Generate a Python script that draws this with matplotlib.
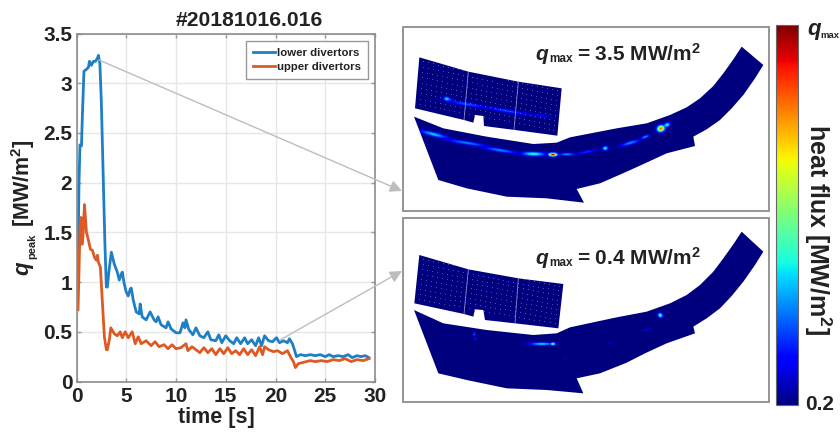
import numpy as np
import matplotlib
matplotlib.use("Agg")
import matplotlib.pyplot as plt
from matplotlib.patches import Rectangle, FancyArrowPatch
from matplotlib.path import Path

plt.rcParams['font.family'] = ['Liberation Sans', 'DejaVu Sans']
plt.rcParams['font.weight'] = 'bold'
plt.rcParams['mathtext.fontset'] = 'custom'
plt.rcParams['mathtext.rm'] = 'Liberation Sans:bold'
plt.rcParams['mathtext.it'] = 'Liberation Sans:italic:bold'
plt.rcParams['mathtext.bf'] = 'Liberation Sans:bold'

# ---- time traces -------------------------------------------------------
lower_t = [0.05,0.15,0.25,0.35,0.5,0.6,0.75,1.0,1.2,1.3,1.5,1.7,1.9,2.1,2.2,2.35,2.5,2.7,2.85,3.0,3.1,3.25,3.5,3.8,4.1,4.3,4.5,4.6,4.8,5.0,5.2,5.4,5.5,5.7,6.0,6.3,6.4,6.6,7.0,7.4,7.8,8.0,8.2,8.5,9.0,9.2,9.5,10.0,10.4,10.7,10.9,11.0,11.3,11.7,12.0,12.4,12.8,13.2,13.5,14.0,14.3,14.6,15.0,15.4,15.8,16.1,16.5,16.9,17.2,17.6,18.0,18.3,18.6,18.9,19.3,19.7,20.1,20.4,20.8,21.2,21.4,21.7,21.9,22.1,22.5,23.0,23.5,24.0,24.5,25.0,25.4,25.8,26.3,26.8,27.3,27.7,28.2,28.6,29.0,29.4]
lower_q = [0.75,1.2,2.0,2.38,2.37,2.7,3.12,3.14,3.16,3.22,3.18,3.22,3.22,3.25,3.28,3.2,2.8,2.0,1.4,0.95,0.95,1.1,1.3,1.18,1.1,1.02,1.08,1.1,0.98,0.9,0.86,0.93,0.94,0.82,0.7,0.68,0.78,0.65,0.62,0.7,0.62,0.6,0.65,0.57,0.54,0.6,0.53,0.49,0.49,0.59,0.54,0.62,0.52,0.47,0.54,0.46,0.44,0.5,0.42,0.41,0.47,0.39,0.46,0.41,0.38,0.44,0.38,0.44,0.38,0.42,0.36,0.44,0.36,0.46,0.41,0.40,0.44,0.39,0.41,0.39,0.43,0.38,0.32,0.25,0.27,0.26,0.27,0.26,0.27,0.25,0.27,0.25,0.26,0.25,0.27,0.24,0.26,0.25,0.26,0.24]
upper_t = [0.05,0.15,0.25,0.35,0.45,0.55,0.65,0.8,1.0,1.2,1.4,1.6,1.8,2.0,2.1,2.2,2.4,2.6,2.8,3.0,3.1,3.3,3.45,3.8,4.1,4.4,4.6,4.9,5.2,5.6,5.9,6.2,6.5,7.0,7.5,7.9,8.3,8.8,9.2,9.6,10.0,10.5,11.0,11.2,11.6,12.0,12.4,12.8,13.2,13.6,14.0,14.4,14.8,15.2,15.6,16.0,16.4,16.8,17.2,17.6,18.0,18.4,18.7,18.9,19.3,19.8,20.2,20.7,21.2,21.5,21.8,22.0,22.3,22.7,23.1,23.5,24.0,24.6,25.2,25.8,26.4,27.0,27.6,28.2,28.8,29.4]
upper_q = [0.75,0.72,1.1,1.55,1.65,1.38,1.45,1.78,1.5,1.42,1.33,1.32,1.25,1.22,1.27,1.2,1.15,0.8,0.45,0.32,0.32,0.42,0.54,0.48,0.46,0.5,0.44,0.5,0.44,0.5,0.38,0.45,0.38,0.41,0.36,0.4,0.35,0.37,0.33,0.37,0.33,0.34,0.38,0.31,0.35,0.32,0.29,0.34,0.29,0.33,0.27,0.33,0.28,0.34,0.28,0.31,0.27,0.33,0.27,0.32,0.26,0.35,0.27,0.35,0.32,0.3,0.31,0.28,0.31,0.25,0.2,0.14,0.18,0.19,0.2,0.21,0.2,0.21,0.2,0.22,0.21,0.23,0.2,0.22,0.21,0.23]

x_ticks = [0,5,10,15,20,25,30]
y_ticks = [0,0.5,1,1.5,2,2.5,3,3.5]
y_tick_labels = ['0','0.5','1','1.5','2','2.5','3','3.5']

# ---- divertor outlines (reference pixels) ------------------------------
def crop(pts, oy):
    return [(400 + a / 3, oy + b / 3) for a, b in pts]

upper_piece_1 = crop([(58,112),(205,155),(355,185),(485,205),(472,347),(345,330),(252,318),(250,288),(225,285),(220,308),(192,300),(45,265)], 20)
lower_piece_1 = crop([(42,290),(130,325),(260,350),(400,372),(470,368),(510,352),(650,325),(740,310),(810,285),(860,262),(900,235),(940,198),(970,160),(1000,118),(1025,80),(1090,135),(1065,175),(1030,225),(995,265),(960,300),(920,328),(880,350),(885,378),(800,400),(735,430),(680,455),(600,490),(530,507),(552,548),(440,535),(320,530),(200,505),(115,480)], 20)
upper_piece_2 = crop([(58,135),(205,178),(355,205),(490,222),(475,355),(345,340),(255,330),(250,300),(225,298),(220,320),(192,312),(43,280)], 210)
lower_piece_2 = crop([(42,300),(130,340),(260,360),(400,375),(470,370),(510,352),(650,322),(740,305),(810,280),(860,255),(900,225),(940,185),(970,145),(1000,103),(1025,65),(1090,125),(1065,165),(1030,215),(995,258),(960,295),(920,325),(880,350),(885,370),(800,400),(735,430),(680,458),(600,490),(530,505),(550,550),(440,540),(320,535),(200,510),(115,490)], 210)

seams_1 = [((205,155),(192,300)), ((355,185),(342,330))]
seams_2 = [((205,178),(192,312)), ((355,205),(345,340))]

# hot spots: crop x, crop y, half length, half width, slope, colour level
spots_1 = [(140,236,10,6,.17,.38),(200,252,60,5,.17,.22),(320,272,70,5,.17,.2),(425,286,30,4,.17,.14),
           (100,342,40,6,.25,.34),(200,368,60,5,.16,.27),(300,390,50,5,.16,.28),(400,401,34,6,.03,.42),(458,403,12,5,0,1.0),(500,402,22,4,0,.3),
           (615,384,8,6,-.2,.42),(560,395,35,4,-.2,.18),(690,368,30,5,-.3,.28),(735,350,14,4,-.4,.3),(782,325,11,9,-.4,.85),(800,314,10,6,-.4,.42)]
spots_2 = [(222,372,3,6,0,.25),(225,386,3,4,0,.18),(425,401,34,4,0,.38),(458,401,7,4,0,.6),
           (780,315,6,7,-1,.5),(740,358,12,3,-.3,.12),(630,398,5,3,0,.1),(495,445,3,3,0,.1)]

W, H = 840, 434
INK = '#222222'
fig = plt.figure(figsize=(W / 100, H / 100), dpi=100, facecolor='white')

# ---- left chart --------------------------------------------------------
x0, x1, ytop, ybot = 76.5, 375, 33.5, 381.5
ax = fig.add_axes([x0 / W, 1 - ybot / H, (x1 - x0) / W, (ybot - ytop) / H])
ax.plot(lower_t, lower_q, color='#1f7fc4', lw=2, label='lower divertors')
ax.plot(upper_t, upper_q, color='#dd5a25', lw=2, label='upper divertors')
ax.set_xlim(0, 30)
ax.set_ylim(0, 3.5)
ax.set_xticks(x_ticks)
ax.set_yticks(y_ticks)
ax.set_yticklabels(y_tick_labels)
ax.grid(color='#e6e6e6', lw=1)
ax.set_axisbelow(True)
ax.tick_params(direction='in', length=3, width=1, color='#999999', labelsize=15, top=True, right=True, labelcolor=INK)
ax.tick_params(axis='x', pad=4)
ax.tick_params(axis='y', pad=3)
for s in ax.spines.values():
    s.set_color('#8c8c8c')
    s.set_linewidth(1.2)
leg = ax.legend(loc='upper right', bbox_to_anchor=((368 - x0) / (x1 - x0), 1 - (41 - ytop) / (ybot - ytop)), fontsize=8.2,
                frameon=True, fancybox=False, edgecolor='#999999', framealpha=1, borderpad=0.6, labelspacing=0.4,
                handlelength=1.9, handletextpad=0.2, borderaxespad=0)
leg.get_frame().set_linewidth(1)
for t in leg.get_texts():
    t.set_color(INK)

# ---- overlay, drawn in reference pixel coordinates ----------------------
ov = fig.add_axes([0, 0, 1, 1], facecolor='none')
ov.axis('off')

yy, xx = np.mgrid[0:H * 2, 0:W * 2] / 2.0

def heat(spots, oy):
    f = np.zeros_like(xx)
    for a, b, sa, sb, m, lv in spots:
        px, py = 400 + a / 3, oy + b / 3
        dx, dy = xx - px, yy - py
        n = np.hypot(1, m)
        u, v = (dx + m * dy) / n, (dy - m * dx) / n
        f = np.maximum(f, lv * np.exp(-(u / (sa / 3)) ** 2 - (v / (sb / 3)) ** 2))
    return f

def dots(piece):
    # faint measurement-point texture spread over the tilted upper piece
    a, b, c, d = [np.array(piece[i]) for i in (0, 3, 4, 11)]
    u = np.linspace(0.03, 0.97, 28)[:, None, None]
    v = np.linspace(0.06, 0.9, 9)[None, :, None]
    return ((1 - v) * ((1 - u) * a + u * b) + v * ((1 - u) * d + u * c)).reshape(-1, 2)

panels = [(27, 211, upper_piece_1, lower_piece_1, spots_1, 20, seams_1, '= 3.5 MW/m$^{2}$', 54),
          (218, 402, upper_piece_2, lower_piece_2, spots_2, 210, seams_2, '= 0.4 MW/m$^{2}$', 258)]
for top, bot, up, low, sp, oy, seams, label, ty in panels:
    ov.add_patch(Rectangle((403, top), 366, bot - top, fc='white', ec='#8c8c8c', lw=1.3, zorder=1))
    im = ov.imshow(heat(sp, oy), extent=(0, W, H, 0), cmap='jet', vmin=0, vmax=1, zorder=2,
                   interpolation='bilinear', aspect='auto')
    verts = list(up) + [up[0]] + list(low) + [low[0]]
    codes = ([Path.MOVETO] + [Path.LINETO] * (len(up) - 1) + [Path.CLOSEPOLY] +
             [Path.MOVETO] + [Path.LINETO] * (len(low) - 1) + [Path.CLOSEPOLY])
    im.set_clip_path(Path(verts, codes), transform=ov.transData)
    pts = dots(up)
    sc = ov.scatter(pts[:, 0], pts[:, 1], s=0.6, color='#7f86c8', alpha=0.7, linewidths=0, zorder=3)
    sc.set_clip_path(Path(list(up) + [up[0]], closed=True), transform=ov.transData)
    for a, b in seams:
        (xa, ya), (xb, yb) = crop([a, b], oy)
        ov.plot([xa, xb], [ya, yb], color='#aab0d8', lw=0.6, alpha=0.8, zorder=3)
    ov.text(535.5, ty, 'q', fontsize=15, style='italic', ha='left', va='center', color=INK, zorder=5)
    ov.text(549, ty + 5, 'max', fontsize=8.5, ha='left', va='center', color=INK, zorder=5)
    ov.text(577, ty, label, fontsize=15, ha='left', va='center', color=INK, zorder=5)

# colour bar
grad = np.linspace(1, 0, 256)[:, None]
ov.imshow(grad, extent=(776, 798, 405, 25), cmap='jet', aspect='auto', zorder=2)
ov.add_patch(Rectangle((776, 25), 22, 380, fc='none', ec='#666666', lw=0.8, zorder=3))
ov.text(807, 29, 'q', fontsize=16, style='italic', ha='left', va='center', color=INK)
ov.text(820.5, 35, 'max', fontsize=6.8, ha='left', va='center', color=INK)
ov.text(805, 404, '0.2', fontsize=15, ha='left', va='center', color=INK)
ov.text(818, 230, 'heat flux [MW/m$^{2}$]', fontsize=18, rotation=270, ha='center', va='center', color=INK)

# chart labels
ov.text(249, 20, '#20181016.016', fontsize=15.2, ha='center', va='center', color=INK)
ov.text(216, 418, 'time [s]', fontsize=15.5, ha='center', va='center', color=INK)
ov.text(23, 268, 'q', fontsize=16, style='italic', rotation=90, ha='center', va='center', color=INK)
ov.text(32, 246, 'peak', fontsize=8, rotation=90, ha='center', va='center', color=INK)
ov.text(23, 183, '[MW/m$^{2}$]', fontsize=15.5, rotation=90, ha='center', va='center', color=INK)

# connector arrows
for a, b in [((99, 60), (402, 191)), ((280, 340), (402, 271))]:
    ov.add_patch(FancyArrowPatch(a, b, arrowstyle='-|>', mutation_scale=18, lw=1, color='#bdbdbd', shrinkA=0, shrinkB=0, zorder=0.5))

ov.set_xlim(0, W)
ov.set_ylim(H, 0)
fig.savefig('out.png', dpi=100)
